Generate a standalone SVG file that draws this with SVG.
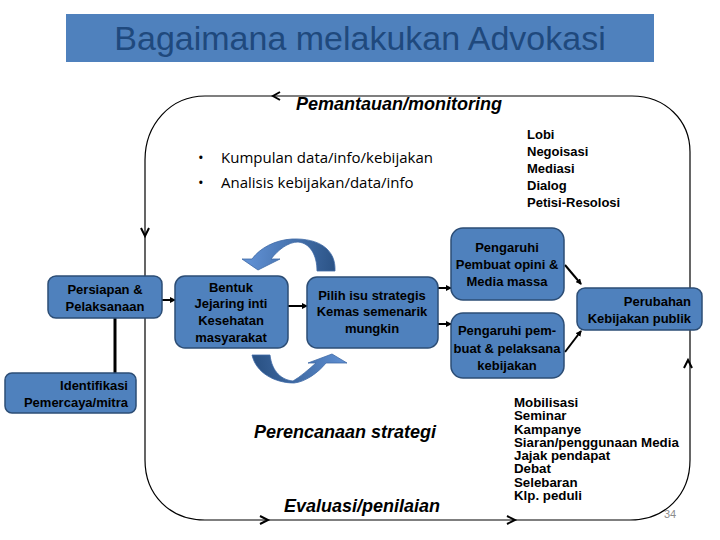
<svg xmlns="http://www.w3.org/2000/svg" width="720" height="540" viewBox="0 0 720 540">
<defs>
<style>
.box{fill:#4f81bd;stroke:#2c4d75;stroke-width:1.5}
.bt{font-family:"Liberation Sans",Arial,sans-serif;font-size:13px;font-weight:bold;fill:#000}
.c{text-anchor:middle}
.r{text-anchor:end}
.lst{font-family:"Liberation Sans",Arial,sans-serif;font-size:13px;font-weight:bold;fill:#000}
.lst2{font-family:"Liberation Sans",Arial,sans-serif;font-size:12px;font-weight:bold;fill:#000}
.it{font-family:"Liberation Sans",Arial,sans-serif;font-size:18px;font-weight:bold;font-style:italic;fill:#000}
.bul{font-family:"Open Sans","Noto Sans",sans-serif;font-size:15px;fill:#000}
.conn{stroke:#000;stroke-width:2;fill:none}
.loop{stroke:#000;stroke-width:1.2;fill:none}
.chev{stroke:#000;stroke-width:2;fill:none}
</style>
<marker id="ah" markerWidth="6" markerHeight="6" refX="5" refY="3" orient="auto" markerUnits="userSpaceOnUse">
<path d="M0,0 L6,3 L0,6 Z" fill="#000"/>
</marker>
<linearGradient id="gTop" gradientUnits="userSpaceOnUse" x1="335" y1="265" x2="250" y2="255">
<stop offset="0" stop-color="#2b5386"/>
<stop offset="1" stop-color="#5f8fd2"/>
</linearGradient>
<linearGradient id="gBot" gradientUnits="userSpaceOnUse" x1="260" y1="375" x2="345" y2="360">
<stop offset="0" stop-color="#2b5386"/>
<stop offset="1" stop-color="#5f8fd2"/>
</linearGradient>
</defs>
<rect width="720" height="540" fill="#fff"/>

<g id="title">
<rect x="66" y="14" width="588" height="48" fill="#4f81bd"/>
<text x="360" y="50" text-anchor="middle" font-family="Liberation Sans,Arial,sans-serif" font-size="34" fill="#1f497d">Bagaimana melakukan Advokasi</text>
</g>

<g id="connectors">
<path class="loop" d="M205,96 L632,96 C665,96 690,120 690,152 L690,460 C690,495 665,520 630,520 L205,520 C170,520 145,495 145,460 L145,160 C145,125 170,96 205,96 Z"/>
<polyline class="chev" points="280,92 273,96 280,100"/>
<polyline class="chev" points="141,228 145,236 149,228"/>
<polyline class="chev" points="260,516 268,520 260,524"/>
<polyline class="chev" points="507,516 515,520 507,524"/>
<polyline class="chev" points="684,368 688,360 692,368"/>
<line class="conn" x1="162" y1="300" x2="175" y2="300" marker-end="url(#ah)"/>
<line class="conn" x1="288" y1="306" x2="307" y2="306" marker-end="url(#ah)"/>
<line class="conn" x1="438" y1="288" x2="451" y2="288" marker-end="url(#ah)"/>
<line class="conn" x1="438" y1="324" x2="451" y2="324" marker-end="url(#ah)"/>
<line class="conn" x1="565" y1="265" x2="581" y2="284" marker-end="url(#ah)"/>
<line class="conn" x1="565" y1="352" x2="581" y2="331" marker-end="url(#ah)"/>
<line x1="115" y1="318" x2="115" y2="373" stroke="#000" stroke-width="3"/>
</g>

<g id="cycle-arrows">
<path d="M335,271 C336,250 320,238 292,239 C275,240 260,248 252,259 L242,259 L258,270 L280,259 L271,259 C278,250 288,242 298,242 C310,243 317,255 317,271 Z" fill="url(#gTop)" stroke="#3f6aa6" stroke-width="0.8"/>
<path d="M252,355 L270,355 C272,372 282,380 293,381 C300,377 308,370 316,363 L308,363 L332,354 L347,363 L326,363 C318,373 305,382 294,383 C275,383 256,373 252,355 Z" fill="url(#gBot)" stroke="#3f6aa6" stroke-width="0.8"/>
</g>

<g id="monitoring"><text class="it" x="296" y="110">Pemantauan/monitoring</text></g>

<g id="bullets">
<text class="bul" x="198" y="163">•</text>
<text class="bul" x="221" y="163">Kumpulan data/info/kebijakan</text>
<text class="bul" x="198" y="188">•</text>
<text class="bul" x="221" y="188">Analisis kebijakan/data/info</text>
</g>

<g id="lobi-list">
<text class="lst" x="527" y="139">Lobi</text>
<text class="lst" x="527" y="156">Negoisasi</text>
<text class="lst" x="527" y="173">Mediasi</text>
<text class="lst" x="527" y="190">Dialog</text>
<text class="lst" x="527" y="207">Petisi-Resolosi</text>
</g>

<g id="persiapan">
<rect class="box" x="48" y="276" width="114" height="42" rx="8"/>
<text class="bt c" x="105" y="294">Persiapan &amp;</text>
<text class="bt c" x="105" y="311">Pelaksanaan</text>
</g>

<g id="identifikasi">
<rect class="box" x="5" y="373" width="131" height="40" rx="7"/>
<text class="bt r" x="128" y="390">Identifikasi</text>
<text class="bt r" x="128" y="407">Pemercaya/mitra</text>
</g>

<g id="bentuk">
<rect class="box" x="175" y="276" width="113" height="72" rx="10"/>
<text class="bt c" x="231" y="292">Bentuk</text>
<text class="bt c" x="231" y="308">Jejaring inti</text>
<text class="bt c" x="231" y="325">Kesehatan</text>
<text class="bt c" x="231" y="342">masyarakat</text>
</g>

<g id="pilih">
<rect class="box" x="307" y="277" width="131" height="71" rx="10"/>
<text class="bt c" x="372" y="300">Pilih isu strategis</text>
<text class="bt c" x="372" y="316">Kemas semenarik</text>
<text class="bt c" x="372" y="333">mungkin</text>
</g>

<g id="opini">
<rect class="box" x="451" y="228" width="113" height="72" rx="12"/>
<text class="bt c" x="507" y="252">Pengaruhi</text>
<text class="bt c" x="507" y="269">Pembuat opini &amp;</text>
<text class="bt c" x="507" y="286">Media massa</text>
</g>

<g id="pembuat">
<rect class="box" x="451" y="313" width="113" height="65" rx="12"/>
<text class="bt c" x="507" y="335">Pengaruhi pem-</text>
<text class="bt c" x="507" y="353">buat &amp; pelaksana</text>
<text class="bt c" x="507" y="370">kebijakan</text>
</g>

<g id="perubahan">
<rect class="box" x="577" y="288" width="125" height="42" rx="8"/>
<text class="bt r" x="691" y="306">Perubahan</text>
<text class="bt r" x="691" y="323">Kebijakan publik</text>
</g>

<g id="perencanaan"><text class="it" x="254" y="438">Perencanaan strategi</text></g>
<g id="evaluasi"><text class="it" x="284" y="512">Evaluasi/penilaian</text></g>

<g id="mobilisasi-list" transform="translate(514,0) scale(1.11,1)">
<text class="lst2" x="0" y="407">Mobilisasi</text>
<text class="lst2" x="0" y="420.3">Seminar</text>
<text class="lst2" x="0" y="433.6">Kampanye</text>
<text class="lst2" x="0" y="446.9">Siaran/penggunaan Media</text>
<text class="lst2" x="0" y="460.2">Jajak pendapat</text>
<text class="lst2" x="0" y="473.5">Debat</text>
<text class="lst2" x="0" y="486.8">Selebaran</text>
<text class="lst2" x="0" y="500">Klp. peduli</text>
</g>

<g id="page"><text x="664" y="518" font-family="Liberation Sans,Arial,sans-serif" font-size="11" fill="#8c8c8c">34</text></g>
</svg>
